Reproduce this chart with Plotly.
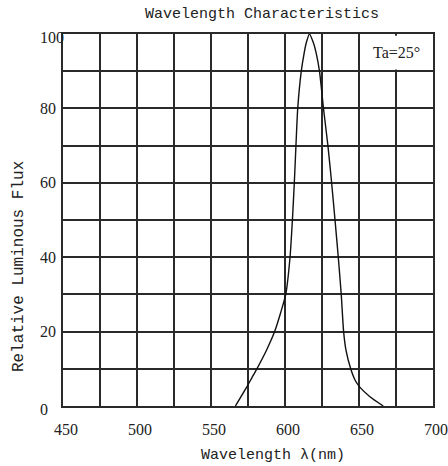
import plotly.graph_objects as go

# Curve
wavelength = [566.5, 574, 577.5, 581, 587.5, 593, 597, 600.5, 603.4, 605, 606.3, 607.4,
               608.6, 611, 613, 614.3, 616.5, 619.3, 621, 623.3, 626, 629, 631.5, 633.8,
               636, 638, 639.6, 641.2, 644.4, 647.3, 650.7, 657.4, 666.4]
flux = [0, 5, 7.5, 10, 15, 20, 25, 30, 40, 50, 60, 70,
        80, 90, 95, 97.5, 100, 97.5, 95, 90, 80, 70, 60, 50,
        40, 30, 20, 15, 10, 7, 5, 2.5, 0]

x_ticks = [450, 500, 550, 600, 650, 700]
y_ticks = [0, 20, 40, 60, 80, 100]

title_text = "Wavelength Characteristics"
x_title = "Wavelength λ(nm)"
y_title = "Relative Luminous Flux"
note_text = "Ta=25°"

grid_c = "#2a2a2a"
mono = "Liberation Mono"
serif = "Liberation Serif"

fig = go.Figure()
fig.add_trace(go.Scatter(x=wavelength, y=flux, mode="lines",
                         line=dict(color="#111111", width=1.4, shape="spline", smoothing=0.6),
                         showlegend=False, hoverinfo="skip"))

fig.update_layout(
    width=448, height=466,
    margin=dict(l=63, r=15, t=34, b=60),
    paper_bgcolor="white", plot_bgcolor="white",
    title=dict(text=title_text, x=262/448, xanchor="center", xref="container",
               y=1 - 13/466, yanchor="middle", yref="container",
               font=dict(family=mono, size=15, color="#222")),
)
fig.update_xaxes(range=[450, 700], tickmode="array", tickvals=x_ticks,
                 ticktext=[str(v) for v in x_ticks], automargin=False,
                 showgrid=True, gridcolor=grid_c, gridwidth=1.5,
                 minor=dict(tick0=450, dtick=25, showgrid=True, gridcolor=grid_c, gridwidth=1.5),
                 showline=True, linecolor=grid_c, linewidth=1.5, mirror=True,
                 ticks="", ticklabelshift=3, ticklabelstandoff=8,
                 tickfont=dict(family=serif, size=16, color="#222"), zeroline=False)
fig.update_yaxes(range=[0, 100], tickmode="array", tickvals=y_ticks, showticklabels=False,
                 automargin=False,
                 showgrid=True, gridcolor=grid_c, gridwidth=1.5,
                 minor=dict(tick0=0, dtick=10, showgrid=True, gridcolor=grid_c, gridwidth=1.5),
                 showline=True, linecolor=grid_c, linewidth=1.5, mirror=True,
                 ticks="", zeroline=False)

# y tick labels (left-aligned as in the reference)
for v in y_ticks:
    fig.add_annotation(x=-25/370, xref="paper", y=v, yref="y", text=str(v),
                       showarrow=False, xanchor="left", yanchor="middle",
                       yshift=-3 if v in (0, 100) else 0,
                       font=dict(family=serif, size=16, color="#222"))

# open the Ta box: remove the 675 grid segment between 90 and 100
fig.add_shape(type="line", x0=675, x1=675, y0=90.45, y1=99.55, xref="x", yref="y",
              line=dict(color="white", width=4), layer="above")

fig.add_annotation(x=675, y=95, xref="x", yref="y", text=note_text, showarrow=False,
                   font=dict(family=serif, size=16, color="#222"))

fig.add_annotation(x=(272.5-63)/370, xref="paper", y=-(455-406)/372, yref="paper",
                   text=x_title, showarrow=False, xanchor="center", yanchor="middle",
                   font=dict(family=mono, size=15, color="#222"))
fig.add_annotation(x=-(63-19)/370, xref="paper", y=(406-267)/372, yref="paper",
                   text=y_title, showarrow=False, textangle=-90,
                   xanchor="center", yanchor="middle",
                   font=dict(family=mono, size=16, color="#222"))

fig.write_html("out.html", config={"displayModeBar": False},
               post_script="document.body.style.margin='0';document.body.style.overflow='hidden';")
